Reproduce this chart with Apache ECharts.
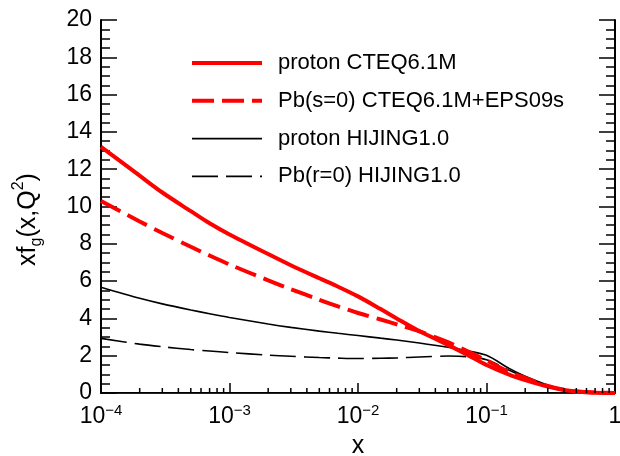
<!DOCTYPE html>
<html>
<head>
<meta charset="utf-8">
<script src="https://cdn.jsdelivr.net/npm/echarts@6/dist/echarts.min.js"></script>
<style>html,body{margin:0;padding:0;background:#fff}#c{width:620px;height:456px}</style>
</head>
<body>
<div id="c"></div>
<script>
const xValues = [1e-4, 2e-4, 3e-4, 5e-4, 7e-4, 1e-3, 2e-3, 3e-3, 5e-3, 7e-3, 1e-2, 1.5e-2, 2e-2, 3e-2, 5e-2, 7e-2, 0.1, 0.15, 0.2, 0.3, 0.4, 0.5, 0.7, 1];
const protonCTEQ = [13.2, 11.65, 10.75, 9.75, 9.1, 8.5, 7.45, 6.85, 6.15, 5.7, 5.18, 4.5, 4.0, 3.32, 2.58, 2.07, 1.5, 0.98, 0.69, 0.34, 0.16, 0.08, 0.02, 0.0];
const pbEPS09 = [10.3, 9.2, 8.58, 7.84, 7.37, 6.89, 6.04, 5.57, 5.0, 4.64, 4.29, 3.94, 3.68, 3.3, 2.73, 2.26, 1.74, 1.13, 0.81, 0.38, 0.17, 0.08, 0.02, 0.0];
const protonHIJING = [5.67, 5.08, 4.78, 4.45, 4.25, 4.05, 3.7, 3.52, 3.32, 3.2, 3.08, 2.94, 2.84, 2.68, 2.45, 2.27, 2.02, 1.32, 0.9, 0.42, 0.15, 0.05, 0.01, 0.0];
const pbHIJING = [2.93, 2.62, 2.48, 2.33, 2.25, 2.17, 2.03, 1.97, 1.9, 1.87, 1.85, 1.86, 1.88, 1.93, 1.98, 1.95, 1.78, 1.22, 0.85, 0.41, 0.15, 0.05, 0.01, 0.0];
const seriesNames = ['proton CTEQ6.1M', 'Pb(s=0) CTEQ6.1M+EPS09s', 'proton HIJING1.0', 'Pb(r=0) HIJING1.0'];
const xTickExponents = {'0.0001': '−4', '0.001': '−3', '0.01': '−2', '0.1': '−1'};

// minor tick positions for the log axis (2..9 in each decade)
const minorTicks = [];
for (let d = -4; d < 0; d++) {
  for (let m = 2; m <= 9; m++) minorTicks.push([m * Math.pow(10, d), 0]);
}

const pair = arr => xValues.map((x, i) => [x, arr[i]]);
const FONT = 'Liberation Sans, Arial, sans-serif';

const chart = echarts.init(document.getElementById('c'), null, {renderer: 'canvas'});
chart.setOption({
  animation: false,
  backgroundColor: '#fff',
  grid: {left: 101, top: 20, right: 5, bottom: 63, containLabel: false, outerBoundsMode: 'none'},
  legend: {
    data: seriesNames,
    orient: 'vertical',
    left: 190, top: 52, padding: 0,
    itemWidth: 70, itemHeight: 20, itemGap: 15.8,
    itemStyle: {opacity: 0},
    lineStyle: {width: 'inherit'},
    textStyle: {fontFamily: FONT, fontSize: 22, color: '#000', padding: [0, 0, 0, 11]},
    selectedMode: false
  },
  xAxis: [{
    type: 'log', logBase: 10, min: 1e-4, max: 1,
    position: 'bottom',
    axisLine: {show: true, lineStyle: {color: '#000', width: 2}},
    axisTick: {show: true, inside: true, length: 10, lineStyle: {color: '#000', width: 1.5}},
    splitLine: {show: false},
    axisLabel: {
      margin: 10, color: '#000', fontFamily: FONT,
      formatter: function (v) {
        const key = String(+v.toPrecision(3));
        if (xTickExponents[key]) return '{b|10}{s|' + xTickExponents[key] + '}';
        return '{b|1}';
      },
      rich: {
        b: {fontSize: 23, fontFamily: FONT, color: '#000', lineHeight: 28},
        s: {fontSize: 15, fontFamily: FONT, color: '#000', lineHeight: 12, verticalAlign: 'top'}
      }
    },
    name: 'x', nameLocation: 'middle', nameGap: 34,
    nameTextStyle: {fontFamily: FONT, fontSize: 25, color: '#000'}
  }, {
    type: 'log', logBase: 10, min: 1e-4, max: 1,
    position: 'top',
    axisLine: {show: true, lineStyle: {color: '#222', width: 1.2}},
    axisTick: {show: false}, axisLabel: {show: false}, splitLine: {show: false}
  }],
  yAxis: [{
    type: 'value', min: 0, max: 20, interval: 2,
    position: 'left',
    axisLine: {show: true, lineStyle: {color: '#000', width: 2}},
    axisTick: {show: true, inside: true, length: 16, lineStyle: {color: '#000', width: 1.5}},
    minorTick: {show: true, splitNumber: 4, length: 9, lineStyle: {color: '#000', width: 1.5}},
    splitLine: {show: false},
    axisLabel: {margin: 9, fontSize: 23, fontFamily: FONT, color: '#000'},
    name: '{a|xf}{sub|g}{a|(x,Q}{sup|2}{a|)}',
    nameLocation: 'middle', nameGap: 56,
    nameTextStyle: {
      padding: [0, 26, 0, 0],
      rich: {
        a: {fontSize: 25, fontFamily: FONT, color: '#000', lineHeight: 34},
        sub: {fontSize: 16, fontFamily: FONT, color: '#000', lineHeight: 16, verticalAlign: 'bottom'},
        sup: {fontSize: 16, fontFamily: FONT, color: '#000', lineHeight: 16, verticalAlign: 'top'}
      }
    }
  }, {
    type: 'value', min: 0, max: 20, interval: 2,
    position: 'right',
    axisLine: {show: true, lineStyle: {color: '#000', width: 2}},
    axisTick: {show: true, inside: true, length: 16, lineStyle: {color: '#000', width: 1.5}},
    minorTick: {show: true, splitNumber: 4, length: 9, lineStyle: {color: '#000', width: 1.5}},
    splitLine: {show: false},
    axisLabel: {show: false}
  }],
  series: [
    {name: seriesNames[0], type: 'line', data: pair(protonCTEQ), showSymbol: false, symbol: 'none', smooth: 0.3,
     lineStyle: {color: '#ff0000', width: 4, type: 'solid'}, itemStyle: {color: '#ff0000'}, z: 4},
    {name: seriesNames[1], type: 'line', data: pair(pbEPS09), showSymbol: false, symbol: 'none', smooth: 0.3,
     lineStyle: {color: '#ff0000', width: 4, type: [22, 8]}, itemStyle: {color: '#ff0000'}, z: 4},
    {name: seriesNames[2], type: 'line', data: pair(protonHIJING), showSymbol: false, symbol: 'none', smooth: 0.3,
     lineStyle: {color: '#000', width: 1.6, type: 'solid'}, itemStyle: {color: '#000'}, z: 3},
    {name: seriesNames[3], type: 'line', data: pair(pbHIJING), showSymbol: false, symbol: 'none', smooth: 0.3,
     lineStyle: {color: '#000', width: 1.6, type: [26, 8]}, itemStyle: {color: '#000'}, z: 3},
    {
      type: 'custom', silent: true, clip: false, z: 5,
      data: minorTicks,
      encode: {x: 0, y: 1},
      renderItem: function (params, api) {
        const p = api.coord([api.value(0), api.value(1)]);
        return {type: 'line', shape: {x1: p[0], y1: p[1], x2: p[0], y2: p[1] - 5},
                style: {stroke: '#000', lineWidth: 1.5}};
      }
    }
  ]
});
</script>
</body>
</html>
